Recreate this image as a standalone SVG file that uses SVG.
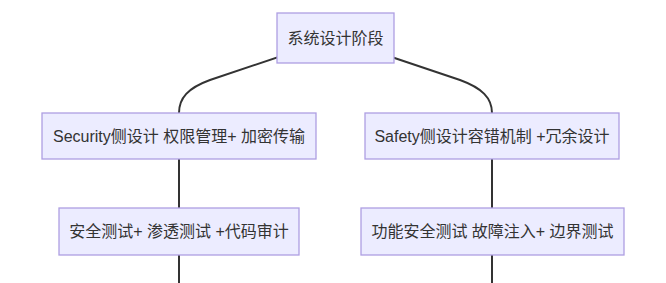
<svg xmlns="http://www.w3.org/2000/svg" width="666" height="283" viewBox="0 0 666 283">
<style>
.node rect{fill:#ECECFF;stroke:#ae9fe2;stroke-width:1.3}
.node text{font-family:"Liberation Sans","Noto Sans CJK SC",sans-serif;font-size:16px;fill:#333;text-anchor:middle;dominant-baseline:central}
.edge{fill:none;stroke:#333;stroke-width:2}
</style>
<rect width="666" height="283" fill="#fff"/>
<g id="connectors">
<path class="edge" d="M335,38 L210,80 C188,88 179,98 179,113"/>
<path class="edge" d="M335,38 L460,80 C482,88 492,98 492,113"/>
<path class="edge" d="M179,159 L179,208"/>
<path class="edge" d="M492,159 L492,208"/>
<path class="edge" d="M179,255 L179,283"/>
<path class="edge" d="M492,255 L492,283"/>
</g>
<g id="n0" class="node"><rect x="277" y="13" width="117" height="50"/><text x="335.5" y="38">系统设计阶段</text></g>
<g id="n1" class="node"><rect x="42" y="113" width="274" height="46"/><text x="179" y="136">Security侧设计 权限管理+ 加密传输</text></g>
<g id="n2" class="node"><rect x="365" y="113" width="254" height="46"/><text x="492" y="136">Safety侧设计容错机制 +冗余设计</text></g>
<g id="n3" class="node"><rect x="59" y="208" width="240" height="47"/><text x="179" y="231.5">安全测试+ 渗透测试 +代码审计</text></g>
<g id="n4" class="node"><rect x="361" y="208" width="263" height="47"/><text x="492.5" y="231.5">功能安全测试 故障注入+ 边界测试</text></g>
</svg>
